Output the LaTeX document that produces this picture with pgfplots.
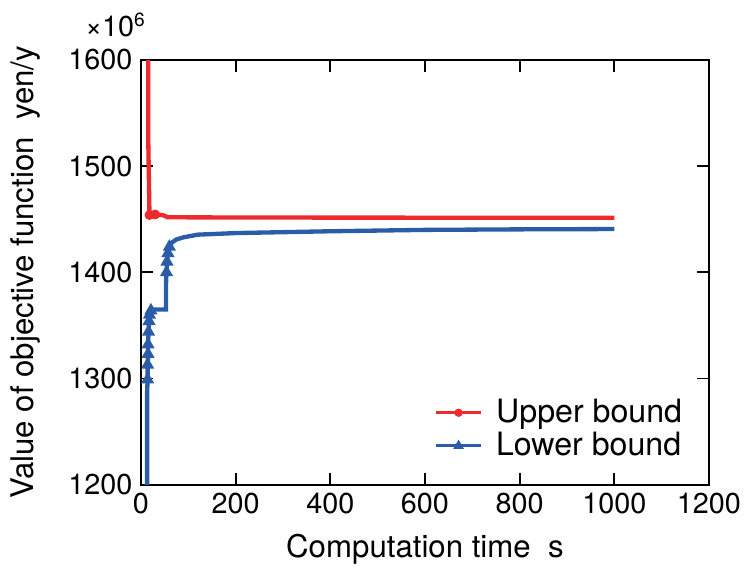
\documentclass[border=0pt]{standalone}
\usepackage{pgfplots}
\pgfplotsset{compat=1.18}
\usepackage{fontspec}
\setmainfont{TeX Gyre Heros}
\definecolor{ubred}{RGB}{237,42,45}
\definecolor{lbblue}{RGB}{42,92,168}

\begin{document}
\begin{tikzpicture}
\begin{axis}[
  scale only axis, width=236.7pt, height=177pt,
  xmin=0, xmax=1200, ymin=1200, ymax=1600,
  xtick={0,200,...,1200}, ytick={1200,1300,...,1600},
  minor tick num=0,
  tick align=inside, major tick length=5pt,
  axis line style={line width=0.8pt},
  every tick/.style={line width=0.8pt, black},
  tick label style={font=\fontsize{12}{14}\selectfont},
  /pgf/number format/assume math mode=true,
  /pgf/number format/set thousands separator={},
  xlabel={Computation time\ \ s},
  ylabel={Value of objective function\ \ yen/y},
  label style={font=\fontsize{13}{15}\selectfont},
  xlabel style={at={(axis description cs:0.5,-0.153)}, anchor=center},
  ylabel style={at={(axis description cs:-0.204,0.5)}, anchor=center},
  legend style={at={(axis description cs:0.503,0.225)}, anchor=north west,
    draw=none, fill=none, font=\fontsize{13.4}{15}\selectfont,
    row sep=-1.5pt, column sep=3.5pt},
  legend cell align=left,
  legend image code/.code={\draw[#1,line width=1.2pt,mark indices={2}]
    plot coordinates {(0pt,0pt)(9.5pt,0pt)(19pt,0pt)};},
  clip=true,
]
% upper bound of the objective
\addplot[ubred, line width=1.8pt, mark=*, mark size=1.1pt, mark indices={2,3}] coordinates {
  (15,1660) (15.5,1522) (18,1454) (30,1454.5) (45,1454) (52,1453)
  (55,1452) (100,1451.8) (300,1451.6) (600,1451.5) (1000,1451.5)
};
\addlegendentry{Upper bound}
% lower bound of the objective
\addplot[lbblue, line width=1.8pt, mark=triangle*, mark size=1.4pt,
  mark indices={2,3,4,5,6,7,8,9,14,15,16,17}] coordinates {
  (13,1150) (13,1287) (14,1299) (14,1313) (15,1323) (15,1332) (16,1344)
  (17,1354) (18,1360) (21,1364) (24,1365) (53,1365) (53,1381) (53,1390)
  (54,1400) (55,1410) (57,1418) (60,1424) (65,1428) (75,1431) (90,1433)
  (120,1435.5) (200,1437) (400,1438.7) (600,1440) (800,1440.5) (1000,1440.8)
};
\addlegendentry{Lower bound}
\end{axis}
\node[anchor=west, font=\fontsize{12}{14}\selectfont] at (-26.7pt,191.6pt) {×10\textsuperscript{6}};
\path (-58.75pt,-40pt) rectangle (253.4pt,202pt);
\end{tikzpicture}
\end{document}
